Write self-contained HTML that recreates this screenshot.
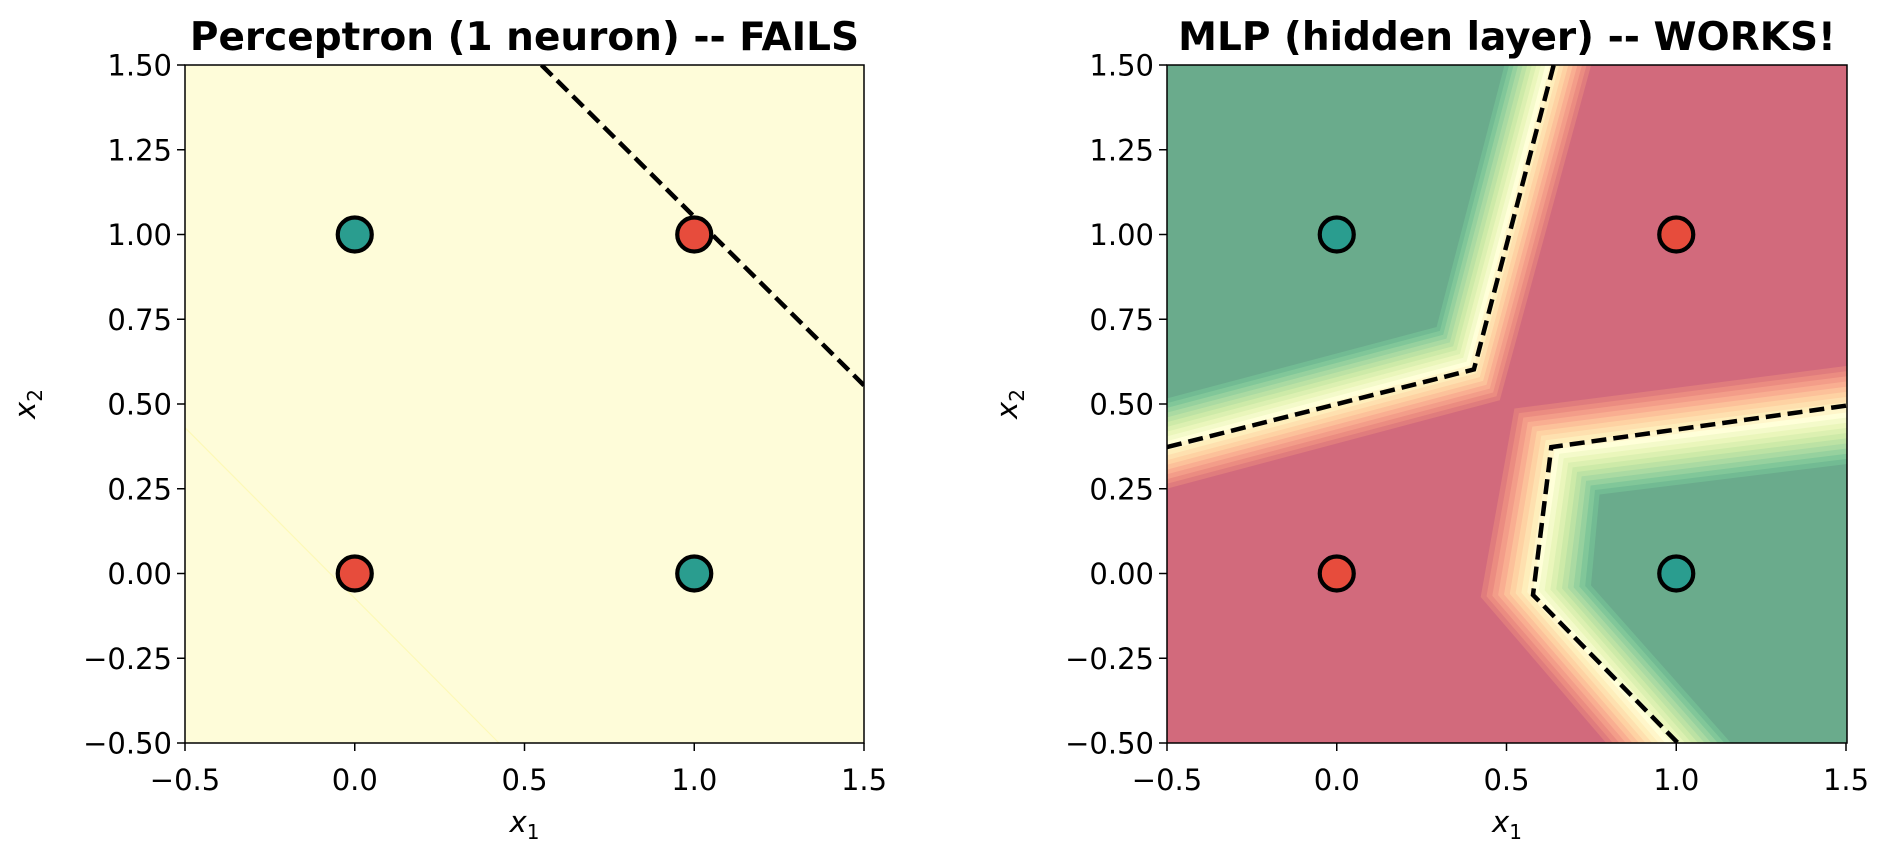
<!DOCTYPE html>
<html><head><meta charset="utf-8"><style>
html,body{margin:0;padding:0;background:#fff}
svg{display:block}
text{font-family:"DejaVu Sans","Liberation Sans",sans-serif;fill:#000}
</style></head><body>
<svg id="s" width="1893" height="861" viewBox="0 0 1893 861" xmlns="http://www.w3.org/2000/svg">
<defs>
<clipPath id="c1"><rect x="185" y="65" width="679" height="678"/></clipPath>
<clipPath id="c2"><rect x="1167" y="65" width="680" height="678"/></clipPath>
</defs>
<g id="g"></g>
<text x="524.5" y="50" font-size="39" font-weight="bold" text-anchor="middle">Perceptron (1 neuron) -- FAILS</text>
<text x="1507" y="50" font-size="39" font-weight="bold" text-anchor="middle">MLP (hidden layer) -- WORKS!</text>
</svg>
<script>
const NS="http://www.w3.org/2000/svg",g=document.getElementById('g');
function el(t,a,p){const e=document.createElementNS(NS,t);for(const k in a)e.setAttribute(k,a[k]);(p||g).appendChild(e);return e;}
const Y0=743,YS=339;
function mk(x0){return {X:v=>x0+(v+0.5)*339.5,Y:v=>Y0-(v+0.5)*YS};}
const L=mk(185),R=mk(1167);
const stops=["#a50026","#d73027","#f46d43","#fdae61","#fee08b","#ffffbf","#d9ef8b","#a6d96a","#66bd63","#1a9850","#006837"].map(h=>[1,3,5].map(i=>parseInt(h.substr(i,2),16)));
function cmap(t){t=Math.max(0,Math.min(1,t));const f=t*10,i=Math.min(9,Math.floor(f)),r=f-i;
 const c=stops[i].map((v,j)=>v+(stops[i+1][j]-v)*r).map(v=>Math.round(0.6*v+0.4*255));return `rgb(${c})`;}
function pts(P,A){return A.map(p=>P.X(p[0]).toFixed(1)+","+P.Y(p[1]).toFixed(1)).join(" ");}
const DASH={'stroke':'#000','stroke-width':4.5,'stroke-dasharray':'15,7',fill:'none'};
const g1=el('g',{'clip-path':'url(#c1)'});
el('rect',{x:185,y:65,width:679,height:678,fill:'rgb(254,252,217)'},g1);
el('line',{x1:L.X(-0.5),y1:L.Y(0.43),x2:L.X(0.425),y2:L.Y(-0.5),stroke:'#fdf9b8','stroke-width':1.2},g1);
el('line',Object.assign({x1:L.X(0.55),y1:L.Y(1.5),x2:L.X(1.5),y2:L.Y(0.555)},DASH),g1);
const g2=el('g',{'clip-path':'url(#c2)'});
el('rect',{x:1167,y:65,width:680,height:678,fill:'rgb(210,106,124)'},g2);
const ULr=[[-0.6,0.21],[0.49,0.5],[0.79,1.6]],ULg=[[-0.6,0.49],[0.294,0.727],[0.52,1.6]];
const LRr=[[1.6,0.64],[0.51,0.5],[0.407,-0.071],[0.86,-0.6]],LRg=[[1.6,0.335],[0.774,0.233],[0.749,-0.035],[1.25,-0.6]];
const N=20;
for(let k=1;k<=N;k++){const s=k/N;let col=cmap(0.03+0.94*s);if(k==N)col='rgb(106,171,140)';
 const ul=ULr.map((p,i)=>[p[0]+(ULg[i][0]-p[0])*s,p[1]+(ULg[i][1]-p[1])*s]);ul.push([-0.6,1.6]);
 const lr=LRr.map((p,i)=>[p[0]+(LRg[i][0]-p[0])*s,p[1]+(LRg[i][1]-p[1])*s]);lr.push([1.6,-0.6]);
 el('polygon',{points:pts(R,ul),fill:col},g2);el('polygon',{points:pts(R,lr),fill:col},g2);}
el('polyline',Object.assign({points:pts(R,[[-0.5,0.373],[0.404,0.602],[0.639,1.5]])},DASH),g2);
el('polyline',Object.assign({points:pts(R,[[1.5,0.495],[0.632,0.373],[0.578,-0.063],[1.005,-0.5]])},DASH),g2);
[[L,185],[R,1167]].forEach(([P,x0])=>{
 const W=P===L?679:680;
 [[0,0,'#e74c3c'],[1,1,'#e74c3c'],[0,1,'#2a9d8f'],[1,0,'#2a9d8f']].forEach(([a,b,c])=>el('circle',{cx:P.X(a),cy:P.Y(b),r:17,fill:c,stroke:'#000','stroke-width':4.2}));
 el('rect',{x:x0,y:65,width:W,height:678,fill:'none',stroke:'#000','stroke-width':1.5});
 [-0.5,0,0.5,1,1.5].forEach(v=>{const x=P.X(v);el('line',{x1:x,y1:743,x2:x,y2:751,stroke:'#000','stroke-width':1.5});
  const t=el('text',{x:x,y:790,'font-size':29,'text-anchor':'middle'});t.textContent=(v<0?'\u2212':'')+Math.abs(v).toFixed(1);});
 [-0.5,-0.25,0,0.25,0.5,0.75,1,1.25,1.5].forEach(v=>{const y=P.Y(v);el('line',{x1:x0-8,y1:y,x2:x0,y2:y,stroke:'#000','stroke-width':1.5});
  const t=el('text',{x:x0-13,y:y+10.5,'font-size':29,'text-anchor':'end'});t.textContent=(v<0?'\u2212':'')+Math.abs(v).toFixed(2);});
 const xl=el('text',{x:x0+W/2,y:832,'font-size':29,'text-anchor':'middle','font-style':'italic'});xl.innerHTML='x<tspan font-size="20" dy="7" font-style="normal">1</tspan>';
 const yl=el('text',{x:0,y:0,'font-size':29,'text-anchor':'middle','font-style':'italic',transform:`translate(${x0-150},404) rotate(-90)`});yl.innerHTML='x<tspan font-size="20" dy="7" font-style="normal">2</tspan>';
});
</script>
</body></html>
